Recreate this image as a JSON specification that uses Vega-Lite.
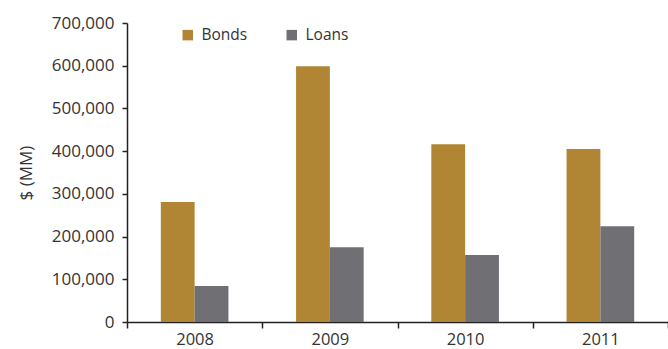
{
  "$schema": "https://vega.github.io/schema/vega-lite/v6.json",
  "width": 541,
  "height": 299,
  "autosize": {"type": "none"},
  "padding": {"left": 127, "top": 23, "right": 0, "bottom": 27},
  "background": "white",
  "config": {
    "view": {"stroke": null},
    "font": "Open Sans",
    "axis": {"labelFont": "Open Sans", "titleFont": "Open Sans", "labelColor": "#333333", "titleColor": "#333333", "domainColor": "#222222", "tickColor": "#222222", "domainWidth": 1.5, "tickWidth": 1.5}
  },
  "data": {
    "values": [
      {"year": "2008", "series": "Bonds", "value": 281000},
      {"year": "2008", "series": "Loans", "value": 84000},
      {"year": "2009", "series": "Bonds", "value": 599000},
      {"year": "2009", "series": "Loans", "value": 175000},
      {"year": "2010", "series": "Bonds", "value": 416000},
      {"year": "2010", "series": "Loans", "value": 157000},
      {"year": "2011", "series": "Bonds", "value": 405000},
      {"year": "2011", "series": "Loans", "value": 224000}
    ]
  },
  "mark": {"type": "bar"},
  "encoding": {
    "x": {
      "field": "year", "type": "nominal",
      "scale": {"paddingInner": 0, "paddingOuter": 0},
      "axis": {"title": null, "labelAngle": 0, "labelFontSize": 16.5, "labelPadding": 3, "tickSize": 6, "tickBand": "extent", "grid": false}
    },
    "xOffset": {"field": "series", "type": "nominal", "sort": ["Bonds", "Loans"], "scale": {"paddingInner": 0, "paddingOuter": 1.18}},
    "y": {
      "field": "value", "type": "quantitative",
      "scale": {"domain": [0, 700000], "nice": false},
      "axis": {"title": "$ (MM)", "titleFontSize": 17, "titleFontWeight": "normal", "titlePadding": 16, "labelFontSize": 17, "labelPadding": 8, "tickSize": 5, "values": [0, 100000, 200000, 300000, 400000, 500000, 600000, 700000], "format": ",d", "grid": false}
    },
    "color": {
      "field": "series", "type": "nominal",
      "scale": {"domain": ["Bonds", "Loans"], "range": ["#B08533", "#706F74"]},
      "legend": {"title": null, "orient": "none", "legendX": 53, "legendY": 4, "direction": "horizontal", "symbolType": "square", "symbolSize": 110, "labelFontSize": 15.5, "labelColor": "#333333", "columnPadding": 36, "labelOffset": 6}
    }
  }
}
